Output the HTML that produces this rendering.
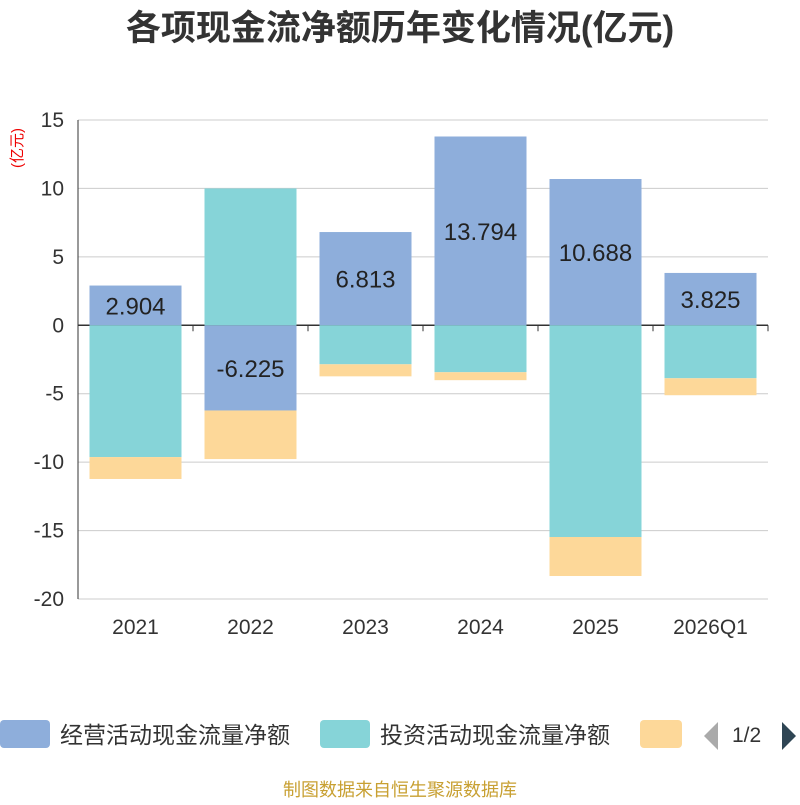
<!DOCTYPE html>
<html><head><meta charset="utf-8"><style>
body{margin:0;background:#fff;font-family:"Liberation Sans","Noto Sans CJK SC",sans-serif}
</style></head><body>
<svg id="c" width="800" height="800" xmlns="http://www.w3.org/2000/svg" font-family="Liberation Sans, Noto Sans CJK SC, sans-serif">
<text x="400" y="40" text-anchor="middle" font-size="35" font-weight="bold" fill="#333">各项现金流净额历年变化情况(亿元)</text>
<text transform="translate(22,148) rotate(-90)" text-anchor="middle" font-size="15" fill="#e00">(亿元)</text>
<g id="grid"></g><g id="bars"></g><g id="labels"></g>
<g>
<rect x="0" y="720" width="50" height="28" rx="4" fill="#8eaedb"/>
<text x="60" y="743" font-size="23" fill="#333">经营活动现金流量净额</text>
<rect x="320" y="720" width="50" height="28" rx="4" fill="#86d4d8"/>
<text x="380" y="743" font-size="23" fill="#333">投资活动现金流量净额</text>
<rect x="640" y="720" width="42" height="28" rx="4" fill="#fdd899"/>
<polygon points="718,722 718,750 704,736" fill="#aaa"/>
<text x="732" y="742" font-size="21" fill="#333">1/2</text>
<polygon points="782,722 782,750 796,736" fill="#2f4554"/>
</g>
<text x="400" y="796" text-anchor="middle" font-size="18" fill="#c8a032">制图数据来自恒生聚源数据库</text>
</svg>
<script>
const categories=["2021","2022","2023","2024","2025","2026Q1"];
const operating=[2.904,-6.225,6.813,13.794,10.688,3.825];
const investing=[-9.63,10.0,-2.85,-3.43,-15.47,-3.87];
const financing=[-1.6,-3.55,-0.88,-0.58,-2.85,-1.24];
const yTicks=[15,10,5,0,-5,-10,-15,-20];
const NS="http://www.w3.org/2000/svg";
const x0=78,x1=768,yTop=120,yBot=599,vMax=15,vMin=-20;
const y=v=>yTop+(vMax-v)/(vMax-vMin)*(yBot-yTop);
const bw=(x1-x0)/categories.length;
const xc=i=>x0+bw*(i+0.5);
function mk(tag,attrs,parent,txt){const e=document.createElementNS(NS,tag);for(const k in attrs)e.setAttribute(k,attrs[k]);if(txt!==undefined)e.textContent=txt;document.getElementById(parent).appendChild(e);return e;}
yTicks.forEach(t=>{
 const l=mk('line',{x1:x0,x2:x1,y1:y(t),y2:y(t),stroke:t===0?'#333':'#ccc','stroke-width':t===0?1.5:1},'grid');
 
 
 const tx=mk('text',{x:x0-14,y:y(t)+7,'text-anchor':'end','font-size':21,fill:'#333'},'grid',String(t));
 
 
});
const ax=mk('line',{x1:x0,x2:x0,y1:yTop,y2:yBot,stroke:'#333'},'grid');


categories.forEach((c,i)=>{
 const tk=mk('line',{x1:x0+bw*(i+1),x2:x0+bw*(i+1),y1:y(0),y2:y(0)+6,stroke:'#333'},'grid');
 
 
 const t=mk('text',{x:xc(i),y:634,'text-anchor':'middle','font-size':21,fill:'#333'},'grid',c);
 
 
});
const series=[[operating,'#8eaedb','operating'],[investing,'#86d4d8','investing'],[financing,'#fdd899','financing']];
const w=92;
categories.forEach((c,i)=>{
 let pos=0,neg=0;
 series.forEach(([arr,col,nm])=>{
  const v=arr[i];let a,b;
  if(v>=0){a=pos;b=pos+v;pos=b;}else{a=neg;b=neg+v;neg=b;}
  const top=y(Math.max(a,b)),bot=y(Math.min(a,b));
  const r=mk('rect',{x:xc(i)-w/2,y:top,width:w,height:bot-top,fill:col},'bars');
  
  
 });
 const v=operating[i];
 const t=mk('text',{x:xc(i),y:y(v/2)+9,'text-anchor':'middle','font-size':24,fill:'#222'},'labels',v.toFixed(3));
 
 
});
</script>
</body></html>
